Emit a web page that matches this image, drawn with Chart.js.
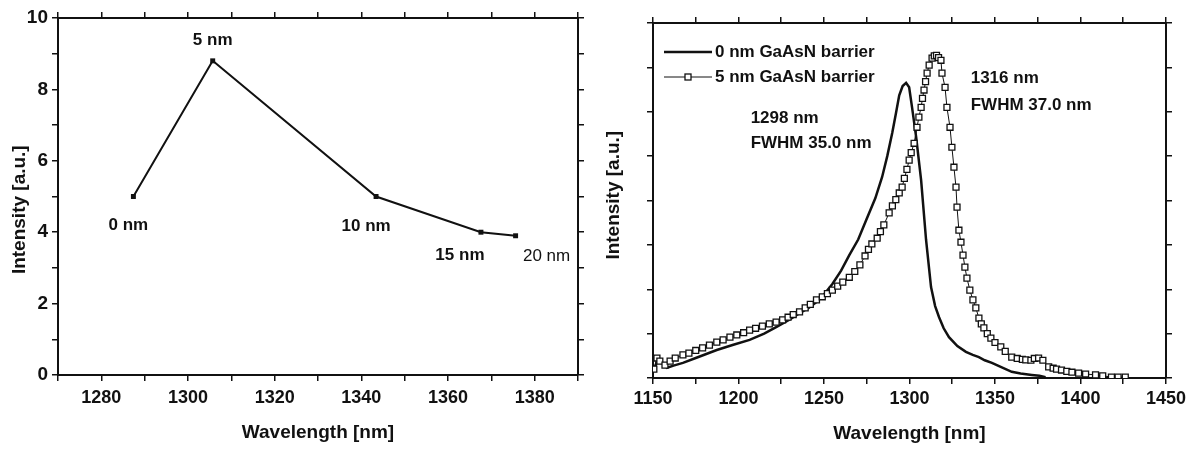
<!DOCTYPE html>
<html><head><meta charset="utf-8">
<script src="https://cdn.jsdelivr.net/npm/chart.js@4"></script>
<style>
html,body{margin:0;padding:0;background:#fff;}
#wrap{position:relative;width:1190px;height:450px;overflow:hidden;}
.panel{position:absolute;top:0;width:595px;height:450px;}
</style></head><body>
<div id="wrap">
<div class="panel" style="left:0"><canvas id="c1"></canvas></div>
<div class="panel" style="left:595px"><canvas id="c2"></canvas></div>
</div>
<script>
// ---------- Left panel data ----------
const thicknessLabels = ['0 nm', '5 nm', '10 nm', '15 nm', '20 nm'];
const peakWavelength = [1287.4, 1305.7, 1343.4, 1367.6, 1375.6];
const peakIntensity = [5.0, 8.8, 5.0, 4.0, 3.9];

// ---------- Right panel data ----------
const seriesNames = ['0 nm GaAsN barrier', '5 nm GaAsN barrier'];
const spec0Wavelength = [1150.5,1152.9,1155,1158.2,1162,1167.5,1175,1187.3,1197,1206.5,1215,1222.3,1230,1235.7,1241,1245.6,1250,1254.9,1260,1264.8,1270,1274.7,1280,1284.0,1287,1289.9,1292,1294.0,1296,1298,1299.8,1301.5,1303.9,1306.8,1309.7,1312.6,1315,1317.3,1320,1323.1,1328,1333.0,1337,1340.6,1344,1348.2,1354,1359.8,1365,1371.5,1376,1379.6];
const spec0Intensity = [0.15,0.45,0.35,0.23,0.28,0.34,0.45,0.63,0.75,0.86,1.0,1.15,1.32,1.46,1.58,1.71,1.88,2.12,2.42,2.77,3.12,3.56,4.05,4.53,5.0,5.52,5.95,6.37,6.58,6.65,6.55,6.10,5.43,4.46,3.11,2.05,1.62,1.37,1.12,0.92,0.72,0.59,0.52,0.47,0.40,0.34,0.24,0.14,0.10,0.07,0.05,0.02];
const spec5Wavelength = [1150.5,1152.3,1154,1157,1160,1163,1167.5,1171,1175,1179,1183,1187.3,1191,1195,1199,1203,1206.5,1210,1214,1218,1222,1225.8,1229,1232,1235.7,1239,1242,1245.6,1249,1252,1254.9,1258,1261,1264.8,1268,1271,1274,1276,1278,1281.1,1283,1285,1288.1,1290,1292,1294,1295.7,1297,1298.5,1299.8,1301,1302.7,1304.4,1305.5,1306.8,1307.6,1308.5,1309.4,1310.3,1311.5,1313.2,1314.5,1315.8,1317,1318.4,1319.0,1320.8,1321.9,1323.7,1324.8,1326.0,1327.2,1327.8,1328.9,1330.1,1331.3,1332.4,1333.6,1335.3,1337.1,1338.8,1340.6,1342,1343.5,1345.5,1347.6,1350,1353.4,1356,1359.8,1363,1366,1368.0,1371,1373,1375.5,1378,1381.4,1384,1386,1388.9,1392,1395,1398.9,1403,1408.8,1413,1418.1,1422,1426.2];
const spec5Intensity = [0.2,0.45,0.38,0.29,0.38,0.45,0.52,0.56,0.62,0.68,0.74,0.81,0.86,0.92,0.97,1.02,1.08,1.12,1.17,1.22,1.26,1.31,1.37,1.43,1.49,1.58,1.66,1.76,1.83,1.90,1.98,2.07,2.16,2.27,2.40,2.55,2.75,2.90,3.02,3.15,3.30,3.45,3.72,3.88,4.02,4.17,4.30,4.50,4.70,4.91,5.08,5.29,5.65,5.88,6.10,6.30,6.49,6.68,6.87,7.05,7.21,7.26,7.27,7.22,7.16,6.87,6.55,6.10,5.65,5.20,4.75,4.30,3.85,3.33,3.06,2.77,2.50,2.25,1.98,1.76,1.58,1.35,1.22,1.13,1.00,0.90,0.80,0.70,0.60,0.47,0.44,0.42,0.41,0.40,0.44,0.45,0.40,0.25,0.22,0.20,0.18,0.15,0.13,0.11,0.09,0.07,0.05,0.02,0.02,0.02];
const peakNotes = [
  {x: 1207.1, y: 5.86, text: '1298 nm'},
  {x: 1207.1, y: 5.30, text: 'FWHM 35.0 nm'},
  {x: 1335.8, y: 6.76, text: '1316 nm'},
  {x: 1335.8, y: 6.15, text: 'FWHM 37.0 nm'}
];

// ---------- styling ----------
const FONT = '"Liberation Sans", Arial, Helvetica, sans-serif';
const INK = '#111';
Chart.defaults.font.family = FONT;
Chart.defaults.color = INK;

const labelOffsets = [[-5, 29], [0, -21], [-10, 30], [-21, 23], [31, 21]];
const labelWeights = ['bold', 'bold', 'bold', 'bold', 'normal'];

function axisCommon(extra) {
  return Object.assign({
    grid: {drawOnChartArea: false, drawTicks: true, tickLength: 6, color: INK, lineWidth: 1.5},
    border: {display: true, color: INK, width: 2}
  }, extra);
}
const xTickFont = {size: 18, weight: 'bold', family: FONT};
const yTickFont = {size: 19, weight: 'bold', family: FONT};
const titleFont = {size: 19, weight: 'bold', family: FONT};

const pointLabelPlugin = {
  id: 'pointLabels',
  afterDatasetsDraw(chart) {
    const ctx = chart.ctx, xs = chart.scales.x, ys = chart.scales.y;
    ctx.save();
    ctx.fillStyle = INK;
    ctx.textAlign = 'center';
    ctx.textBaseline = 'middle';
    thicknessLabels.forEach((t, i) => {
      ctx.font = labelWeights[i] + ' 17px ' + FONT;
      const px = xs.getPixelForValue(peakWavelength[i]) + labelOffsets[i][0];
      const py = ys.getPixelForValue(peakIntensity[i]) + labelOffsets[i][1];
      ctx.fillText(t, px, py);
    });
    ctx.restore();
  }
};

new Chart(document.getElementById('c1'), {
  type: 'line',
  data: {datasets: [{
    data: peakWavelength.map((x, i) => ({x: x, y: peakIntensity[i]})),
    borderColor: INK, borderWidth: 2, tension: 0,
    pointStyle: 'rect', pointRadius: 3.5, pointBackgroundColor: INK, pointBorderColor: INK, pointBorderWidth: 0
  }]},
  options: {
    responsive: true, maintainAspectRatio: false, animation: false, devicePixelRatio: 1,
    layout: {padding: 0},
    plugins: {legend: {display: false}, tooltip: {enabled: false}},
    scales: {
      x: axisCommon({type: 'linear', position: 'bottom', min: 1270, max: 1390,
        afterFit: s => { s.height = 75; },
        ticks: {stepSize: 10, autoSkip: false, maxRotation: 0, padding: 6, font: xTickFont, color: INK,
          callback: v => (Math.round(v) % 20 === 0 ? String(Math.round(v)) : '')},
        title: {display: true, text: 'Wavelength [nm]', font: titleFont, color: INK, padding: {top: 0, bottom: 6}}
      }),
      y: axisCommon({type: 'linear', position: 'left', min: 0, max: 10,
        afterFit: s => { s.width = 58; },
        ticks: {stepSize: 1, autoSkip: false, padding: 4, font: yTickFont, color: INK,
          callback: v => (Math.round(v) % 2 === 0 ? String(Math.round(v)) : '')},
        title: {display: true, text: 'Intensity [a.u.]\u00a0\u00a0\u00a0\u00a0\u00a0', font: titleFont, color: INK, padding: {top: 8, bottom: 0}}
      }),
      x2: axisCommon({type: 'linear', axis: 'x', position: 'top', min: 1270, max: 1390,
        afterFit: s => { s.height = 18; },
        ticks: {display: false, stepSize: 10}}),
      y2: axisCommon({type: 'linear', axis: 'y', position: 'right', min: 0, max: 10,
        afterFit: s => { s.width = 17; },
        ticks: {display: false, stepSize: 1}})
    }
  },
  plugins: [pointLabelPlugin]
});

const rightDecor = {
  id: 'rightDecor',
  afterDatasetsDraw(chart) {
    const ctx = chart.ctx, ca = chart.chartArea, xs = chart.scales.x, ys = chart.scales.y;
    const ds = chart.data.datasets;
    ctx.save();
    const rows = [ca.top + 29, ca.top + 54];
    const x0 = ca.left + 11, x1 = ca.left + 59;
    rows.forEach((yy, i) => {
      ctx.strokeStyle = INK;
      ctx.lineWidth = ds[i].borderWidth;
      ctx.beginPath(); ctx.moveTo(x0, yy); ctx.lineTo(x1, yy); ctx.stroke();
      if (i === 1) {
        ctx.fillStyle = '#fff';
        ctx.lineWidth = 1.3;
        const cx = (x0 + x1) / 2;
        ctx.fillRect(cx - 3, yy - 3, 6, 6);
        ctx.strokeRect(cx - 3, yy - 3, 6, 6);
      }
      ctx.fillStyle = INK;
      ctx.font = 'bold 17px ' + FONT;
      ctx.textAlign = 'left';
      ctx.textBaseline = 'middle';
      ctx.fillText(seriesNames[i], x1 + 3, yy);
    });
    ctx.font = 'bold 17px ' + FONT;
    ctx.textAlign = 'left';
    ctx.textBaseline = 'middle';
    ctx.fillStyle = INK;
    peakNotes.forEach(n => ctx.fillText(n.text, xs.getPixelForValue(n.x), ys.getPixelForValue(n.y)));
    ctx.restore();
  }
};

new Chart(document.getElementById('c2'), {
  type: 'line',
  data: {datasets: [
    {label: seriesNames[0], data: spec0Wavelength.map((x, i) => ({x: x, y: spec0Intensity[i]})),
      borderColor: INK, borderWidth: 2.5, tension: 0, pointRadius: 0, order: 1},
    {label: seriesNames[1], data: spec5Wavelength.map((x, i) => ({x: x, y: spec5Intensity[i]})),
      borderColor: INK, borderWidth: 1, tension: 0, pointStyle: 'rect', pointRadius: 4.2,
      pointBackgroundColor: '#fff', pointBorderColor: INK, pointBorderWidth: 1.3, order: 0}
  ]},
  options: {
    responsive: true, maintainAspectRatio: false, animation: false, devicePixelRatio: 1,
    layout: {padding: 0},
    plugins: {legend: {display: false}, tooltip: {enabled: false}},
    scales: {
      x: axisCommon({type: 'linear', position: 'bottom', min: 1150, max: 1450,
        afterFit: s => { s.height = 72; },
        ticks: {stepSize: 25, autoSkip: false, maxRotation: 0, padding: 4, font: xTickFont, color: INK,
          callback: v => (Math.round(v) % 50 === 0 ? String(Math.round(v)) : '')},
        title: {display: true, text: 'Wavelength [nm]', font: titleFont, color: INK, padding: {top: 0, bottom: 5}}
      }),
      y: axisCommon({type: 'linear', position: 'left', min: 0, max: 8,
        afterFit: s => { s.width = 58; },
        ticks: {stepSize: 1, autoSkip: false, padding: 4, font: yTickFont, color: INK, callback: v => ''},
        title: {display: true, text: '\u00a0\u00a0Intensity [a.u.]', font: titleFont, color: INK, padding: {top: 7, bottom: 0}}
      }),
      x2: axisCommon({type: 'linear', axis: 'x', position: 'top', min: 1150, max: 1450,
        afterFit: s => { s.height = 23; },
        ticks: {display: false, stepSize: 25}}),
      y2: axisCommon({type: 'linear', axis: 'y', position: 'right', min: 0, max: 8,
        afterFit: s => { s.width = 22; },
        ticks: {display: false, stepSize: 1}})
    }
  },
  plugins: [rightDecor]
});
</script>
</body></html>
